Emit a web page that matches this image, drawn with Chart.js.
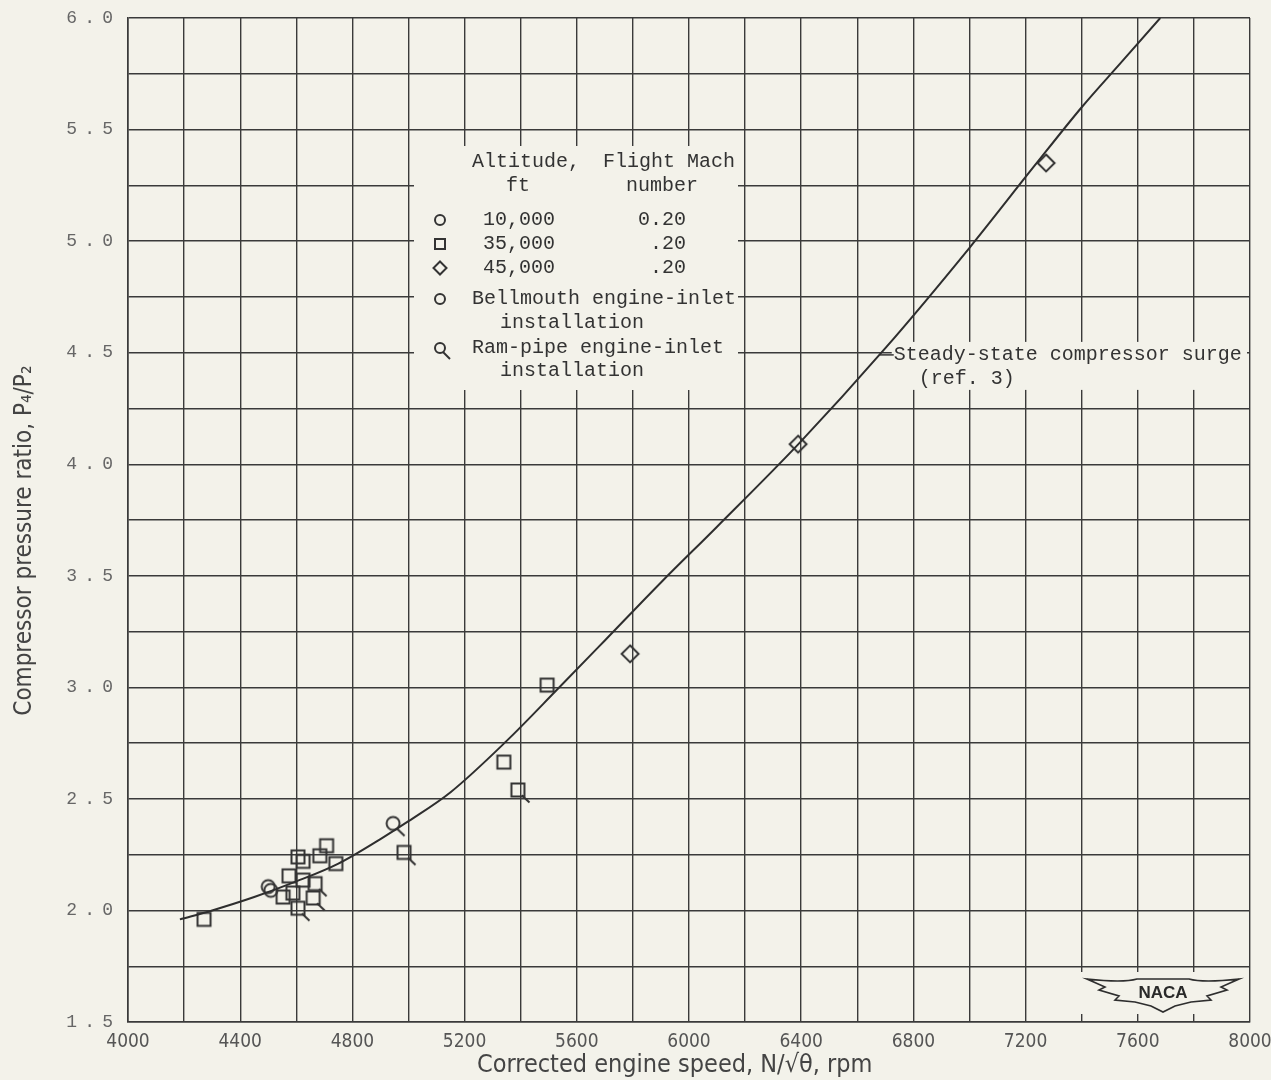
<!DOCTYPE html>
<html>
<head>
<meta charset="utf-8">
<script src="https://cdn.jsdelivr.net/npm/chart.js@4"></script>
<style>
  body { margin: 0; background: #f3f2ea; }
  canvas { display: block; }
</style>
</head>
<body>
<canvas id="surgeChart" width="1271" height="1080"></canvas>
<script>
// corrected engine speed (rpm) / pressure ratio pairs
const surgeSpeed = [4185, 4300, 4450, 4600, 4750, 4900, 5000, 5150, 5350, 5530, 5700, 5900, 6100, 6390, 6700, 7000, 7227, 7400, 7540, 7680];
const surgeRatio = [1.96, 2.0, 2.06, 2.13, 2.21, 2.32, 2.40, 2.53, 2.76, 2.99, 3.21, 3.47, 3.72, 4.09, 4.52, 4.97, 5.33, 5.60, 5.80, 6.0];

const alt10Speed = [4500, 4509];
const alt10Ratio = [2.107, 2.09];
const alt10RamSpeed = [4945];
const alt10RamRatio = [2.39];

const alt35Speed = [4271, 5494, 5340, 4708, 4606, 4624, 4684, 4741, 4574, 4624, 4553, 4588];
const alt35Ratio = [1.96, 3.01, 2.665, 2.29, 2.24, 2.22, 2.245, 2.21, 2.155, 2.136, 2.06, 2.078];
const alt35RamSpeed = [5390, 4984, 4667, 4660, 4606];
const alt35RamRatio = [2.54, 2.26, 2.12, 2.056, 2.01];

const alt45Speed = [7273, 6389, 5790];
const alt45Ratio = [5.35, 4.09, 3.15];

const legendRows = [
  ["circle", "10,000", "0.20"],
  ["square", "35,000", ".20"],
  ["diamond", "45,000", ".20"],
];

const paper = "#f3f2ea";
const ink = "#3a3a3a";
const typeFont = "'Liberation Mono', 'DejaVu Sans Mono', monospace";
const narrowFont = "'Liberation Sans Narrow', 'DejaVu Sans Condensed', sans-serif";
const nb = "\u00A0";

const toPoints = (xs, ys) => xs.map((x, i) => ({ x: x, y: ys[i] }));

// hollow marker drawn into a small canvas, optional tail for ram-pipe points
function drawShape(c, kind, cx, cy, s) {
  c.beginPath();
  if (kind === "circle") {
    c.arc(cx, cy, s, 0, Math.PI * 2);
  } else if (kind === "square") {
    c.rect(cx - s, cy - s, s * 2, s * 2);
  } else {
    const d = s * 1.3;
    c.moveTo(cx, cy - d);
    c.lineTo(cx + d, cy);
    c.lineTo(cx, cy + d);
    c.lineTo(cx - d, cy);
    c.closePath();
  }
  c.stroke();
}

function makeMarker(kind, tail, size) {
  const cv = document.createElement("canvas");
  cv.width = 32;
  cv.height = 32;
  const c = cv.getContext("2d");
  c.strokeStyle = "#333";
  c.lineWidth = 2;
  drawShape(c, kind, 16, 16, size);
  if (tail) {
    c.beginPath();
    c.moveTo(16 + size * 0.6, 16 + size * 0.8);
    c.lineTo(16 + size + 5, 16 + size + 6);
    c.stroke();
  }
  return cv;
}

const circleMark = makeMarker("circle", false, 6.5);
const circleRamMark = makeMarker("circle", true, 6.5);
const squareMark = makeMarker("square", false, 6.5);
const squareRamMark = makeMarker("square", true, 6.5);
const diamondMark = makeMarker("diamond", false, 6.5);

const legendCircle = makeMarker("circle", false, 5);
const legendSquare = makeMarker("square", false, 5);
const legendDiamond = makeMarker("diamond", false, 5);
const legendRam = makeMarker("circle", true, 5);

// paper background
const paperPlugin = {
  id: "paper",
  beforeDraw(chart) {
    const ctx = chart.ctx;
    ctx.save();
    ctx.fillStyle = paper;
    ctx.fillRect(0, 0, chart.width, chart.height);
    ctx.restore();
  },
};

// key, curve note and NACA badge, drawn over the grid
const notesPlugin = {
  id: "notes",
  beforeDatasetsDraw(chart) {
    const ctx = chart.ctx;
    const xs = chart.scales.x;
    const ys = chart.scales.y;
    ctx.save();

    // key block
    ctx.fillStyle = paper;
    ctx.fillRect(414, 146, 324, 244);
    ctx.fillStyle = "#333";
    ctx.font = "20px " + typeFont;
    ctx.textBaseline = "middle";
    ctx.textAlign = "left";
    ctx.fillText("Altitude,", 472, 162);
    ctx.fillText("Flight Mach", 603, 162);
    ctx.textAlign = "center";
    ctx.fillText("ft", 518, 186);
    ctx.fillText("number", 662, 186);
    const marks = { circle: legendCircle, square: legendSquare, diamond: legendDiamond };
    legendRows.forEach((row, i) => {
      const y = 220 + i * 24;
      ctx.drawImage(marks[row[0]], 440 - 16, y - 16);
      ctx.textAlign = "right";
      ctx.fillText(row[1], 555, y);
      ctx.fillText(row[2], 686, y);
    });
    ctx.textAlign = "left";
    ctx.drawImage(legendCircle, 440 - 16, 299 - 16);
    ctx.fillText("Bellmouth engine-inlet", 472, 299);
    ctx.fillText("installation", 500, 323);
    ctx.drawImage(legendRam, 440 - 16, 348 - 16);
    ctx.fillText("Ram-pipe engine-inlet", 472, 348);
    ctx.fillText("installation", 500, 371);

    // note on the surge line
    const nx = xs.getPixelForValue(6680);
    const ny = ys.getPixelForValue(4.49);
    ctx.fillStyle = paper;
    ctx.fillRect(nx + 12, ny - 13, xs.right - nx - 15, 48);
    ctx.strokeStyle = "#333";
    ctx.lineWidth = 1.5;
    ctx.beginPath();
    ctx.moveTo(nx, ny);
    ctx.lineTo(nx + 14, ny);
    ctx.stroke();
    ctx.fillStyle = "#333";
    ctx.fillText("Steady-state compressor surge", nx + 14, ny);
    ctx.fillText("(ref. 3)", nx + 39, ny + 24);

    // NACA wings badge
    const bx = 1163, by = 992;
    ctx.fillStyle = paper;
    ctx.fillRect(bx - 82, by - 20, 164, 42);
    ctx.beginPath();
    ctx.moveTo(bx - 76, by - 13);
    ctx.quadraticCurveTo(bx - 40, by - 9, bx - 26, by - 13);
    ctx.lineTo(bx + 26, by - 13);
    ctx.quadraticCurveTo(bx + 40, by - 9, bx + 76, by - 13);
    ctx.lineTo(bx + 58, by - 5);
    ctx.lineTo(bx + 64, by - 2);
    ctx.lineTo(bx + 44, by + 4);
    ctx.lineTo(bx + 48, by + 8);
    ctx.lineTo(bx + 28, by + 10);
    ctx.lineTo(bx + 12, by + 14);
    ctx.lineTo(bx, by + 20);
    ctx.lineTo(bx - 12, by + 14);
    ctx.lineTo(bx - 28, by + 10);
    ctx.lineTo(bx - 48, by + 8);
    ctx.lineTo(bx - 44, by + 4);
    ctx.lineTo(bx - 64, by - 2);
    ctx.lineTo(bx - 58, by - 5);
    ctx.closePath();
    ctx.lineWidth = 1.6;
    ctx.strokeStyle = "#2e2e2e";
    ctx.stroke();
    ctx.fillStyle = "#2a2a2a";
    ctx.font = "bold 17px 'Liberation Sans', Arial, sans-serif";
    ctx.textAlign = "center";
    ctx.fillText("NACA", bx, by + 1);
    ctx.restore();
  },
};

let surgeChart = new Chart(document.getElementById("surgeChart").getContext("2d"), {
  type: "scatter",
  data: {
    datasets: [
      {
        label: "Steady-state compressor surge",
        data: toPoints(surgeSpeed, surgeRatio),
        showLine: true,
        borderColor: "#2e2e2e",
        borderWidth: 2,
        pointRadius: 0,
        cubicInterpolationMode: "monotone",
        fill: false,
      },
      {
        label: "10,000 ft",
        data: toPoints(alt10Speed, alt10Ratio),
        pointStyle: circleMark,
      },
      {
        label: "10,000 ft ram-pipe",
        data: toPoints(alt10RamSpeed, alt10RamRatio),
        pointStyle: circleRamMark,
      },
      {
        label: "35,000 ft",
        data: toPoints(alt35Speed, alt35Ratio),
        pointStyle: squareMark,
      },
      {
        label: "35,000 ft ram-pipe",
        data: toPoints(alt35RamSpeed, alt35RamRatio),
        pointStyle: squareRamMark,
      },
      {
        label: "45,000 ft",
        data: toPoints(alt45Speed, alt45Ratio),
        pointStyle: diamondMark,
      },
    ],
  },
  options: {
    responsive: false,
    animation: false,
    layout: {
      padding: { left: 0, right: 21, top: 18, bottom: 0 },
    },
    scales: {
      x: {
        type: "linear",
        min: 4000,
        max: 8000,
        afterFit: (scale) => {
          scale.height = 58;
          scale.paddingLeft = 0;
          scale.paddingRight = 0;
        },
        grid: { color: ink, lineWidth: 1.4, drawTicks: false },
        border: { color: ink, width: 1.6 },
        ticks: {
          stepSize: 200,
          autoSkip: false,
          maxRotation: 0,
          padding: 9,
          color: "#555",
          font: { family: narrowFont, size: 19 },
          callback: (v) => (v % 400 === 0 ? String(v) : ""),
        },
        title: {
          display: true,
          text: "Corrected engine speed, N/\u221A\u03B8, rpm" + nb.repeat(4),
          color: "#444",
          font: { family: narrowFont, size: 25 },
          padding: { top: 0, bottom: 0 },
        },
      },
      y: {
        type: "linear",
        min: 1.5,
        max: 6,
        afterFit: (scale) => {
          scale.width = 128;
          scale.paddingTop = 0;
          scale.paddingBottom = 0;
        },
        grid: { color: ink, lineWidth: 1.4, drawTicks: false },
        border: { color: ink, width: 1.6 },
        ticks: {
          stepSize: 0.25,
          autoSkip: false,
          padding: 15,
          color: "#666",
          font: { family: typeFont, size: 18 },
          callback: (v) => (Math.abs(v * 2 - Math.round(v * 2)) < 1e-6 ? v.toFixed(1).split("").join("\u2009\u2009") : ""),
        },
        title: {
          display: true,
          text: "Compressor pressure ratio, P\u2084/P\u2082" + nb.repeat(6),
          color: "#444",
          font: { family: narrowFont, size: 24 },
          padding: { top: 10, bottom: 0 },
        },
      },
    },
    plugins: {
      legend: { display: false },
      tooltip: { enabled: false },
    },
  },
  plugins: [paperPlugin, notesPlugin],
});
</script>
</body>
</html>
